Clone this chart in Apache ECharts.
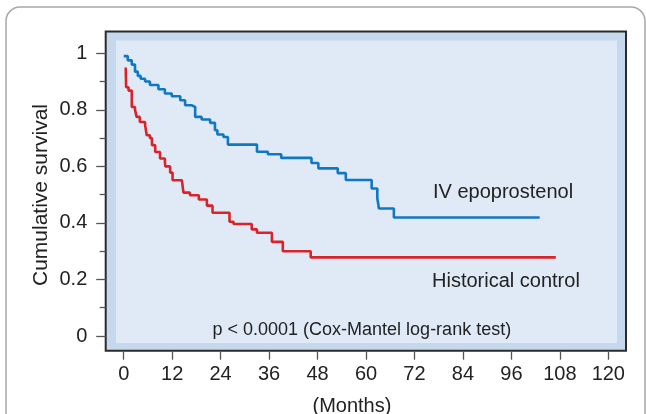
<!DOCTYPE html>
<html>
<head>
<meta charset="utf-8">
<script src="https://cdn.jsdelivr.net/npm/echarts@6/dist/echarts.min.js"></script>
<style>
  html, body { margin: 0; padding: 0; background: #ffffff; }
  #mychart { width: 646px; height: 414px; }
</style>
</head>
<body>
<div id="mychart"></div>
<script>
// months / cumulative survival (Kaplan-Meier steps)
var epoMonths = [0, 1, 2, 2.8, 3.5, 4.2, 5.3, 6.5, 8.6, 10.2, 11.9, 14, 15.2, 16.9, 17.7, 19.3, 21.4, 22.6, 23.2, 24.7, 25.8, 33, 35.7, 39, 46.5, 48.2, 53, 55, 61.4, 62.8, 63.2, 66.9, 103];
var epoSurv = [0.99, 0.975, 0.96, 0.935, 0.92, 0.91, 0.9, 0.888, 0.873, 0.858, 0.848, 0.834, 0.816, 0.81, 0.775, 0.766, 0.754, 0.728, 0.713, 0.704, 0.677, 0.652, 0.643, 0.63, 0.612, 0.593, 0.576, 0.552, 0.522, 0.487, 0.451, 0.419, 0.419];

var histMonths = [0.5, 0.6, 1.2, 2, 2.8, 3.2, 4, 5.3, 5.7, 6.5, 7, 7.8, 9, 10.2, 10.3, 11.5, 12.1, 14.4, 14.8, 16.4, 18.6, 20.6, 22, 26.2, 27.2, 31.7, 33, 36.7, 39.4, 46.3, 107];
var histSurv = [0.95, 0.88, 0.868, 0.81, 0.8, 0.775, 0.757, 0.746, 0.71, 0.7, 0.675, 0.651, 0.628, 0.616, 0.6, 0.578, 0.551, 0.545, 0.507, 0.498, 0.483, 0.461, 0.436, 0.404, 0.396, 0.377, 0.365, 0.333, 0.3, 0.278, 0.278];

var xTicks = [0, 12, 24, 36, 48, 60, 72, 84, 96, 108, 120];
var yTicks = [0, 0.2, 0.4, 0.6, 0.8, 1];
var yMinorTicks = [0.1, 0.3, 0.5, 0.7, 0.9];

var seriesNames = ['IV epoprostenol', 'Historical control'];
var pText = 'p < 0.0001 (Cox-Mantel log-rank test)';
var xTitle = '(Months)';
var yTitle = 'Cumulative survival';

function pairs(xs, ys) {
  var out = [];
  for (var i = 0; i < xs.length; i++) {
    out.push([xs[i], ys[i]]);
  }
  return out;
}

var font = '"Liberation Sans", Arial, Helvetica, sans-serif';
var tickColor = '#555555';

var myChart = echarts.init(document.getElementById('mychart'));

var option = {
  backgroundColor: '#ffffff',
  animation: false,
  // the grid is the framed box; the data range sits inset inside it
  grid: {
    left: 105.7,
    right: 20,
    top: 31.5,
    bottom: 63.3
  },
  graphic: [
    {
      // outer rounded panel
      type: 'rect',
      z: -10,
      shape: { x: 6, y: 7, width: 639, height: 460, r: 14 },
      style: { fill: '#ffffff', stroke: '#a8a8a8', lineWidth: 1.5 }
    },
    {
      type: 'rect',
      z: -9,
      shape: { x: 105.7, y: 31.5, width: 520.3, height: 319.2 },
      style: { fill: '#c5d8ed', stroke: '#2b2b2b', lineWidth: 2 }
    },
    {
      type: 'rect',
      z: -8,
      shape: { x: 116, y: 40.5, width: 501, height: 302.5 },
      style: { fill: '#e0eaf6' }
    },
    {
      type: 'text',
      z: 10,
      left: 433,
      top: 182.5,
      style: { text: seriesNames[0], font: '20px ' + font, fill: '#222222' }
    },
    {
      type: 'text',
      z: 10,
      left: 432,
      top: 271,
      style: { text: seriesNames[1], font: '20px ' + font, fill: '#222222' }
    },
    {
      type: 'text',
      z: 10,
      left: 212.5,
      top: 321.5,
      style: { text: pText, font: '18px ' + font, fill: '#222222' }
    },
    {
      type: 'text',
      z: 10,
      left: 312.5,
      top: 396,
      style: { text: xTitle, font: '20px ' + font, fill: '#222222' }
    },
    {
      // y title, rotated
      type: 'text',
      z: 10,
      x: 41.5,
      y: 195,
      rotation: Math.PI / 2,
      style: {
        text: yTitle,
        font: '21px ' + font,
        fill: '#222222',
        align: 'center',
        verticalAlign: 'middle'
      }
    }
  ],
  xAxis: {
    type: 'value',
    min: -4.457,
    max: 124.38,
    axisLine: { show: false, onZero: false },
    axisTick: {
      show: true,
      length: 9,
      customValues: xTicks,
      lineStyle: { color: tickColor, width: 1.3 }
    },
    axisLabel: {
      margin: 14,
      fontSize: 20,
      fontFamily: font,
      color: '#222222',
      customValues: xTicks
    },
    splitLine: { show: false }
  },
  yAxis: [
    {
      type: 'value',
      min: -0.052,
      max: 1.0771,
      axisLine: { show: false, onZero: false },
      axisTick: {
        show: true,
        length: 9.5,
        customValues: yTicks,
        lineStyle: { color: tickColor, width: 1.3 }
      },
      axisLabel: {
        margin: 18.4,
        fontSize: 20,
        fontFamily: font,
        color: '#222222',
        customValues: yTicks,
        formatter: function (v) { return String(Math.round(v * 10) / 10); }
      },
      splitLine: { show: false }
    },
    {
      // minor ticks only
      type: 'value',
      position: 'left',
      min: -0.052,
      max: 1.0771,
      axisLine: { show: false, onZero: false },
      axisTick: {
        show: true,
        length: 6,
        customValues: yMinorTicks,
        lineStyle: { color: tickColor, width: 1.3 }
      },
      axisLabel: { show: false },
      splitLine: { show: false }
    }
  ],
  series: [
    {
      name: seriesNames[0],
      type: 'line',
      step: 'end',
      symbol: 'none',
      z: 3,
      lineStyle: { color: '#0f78c2', width: 2.6 },
      data: pairs(epoMonths, epoSurv)
    },
    {
      name: seriesNames[1],
      type: 'line',
      step: 'end',
      symbol: 'none',
      z: 3,
      lineStyle: { color: '#d8232a', width: 2.6 },
      data: pairs(histMonths, histSurv)
    }
  ]
};

myChart.setOption(option);
</script>
</body>
</html>
